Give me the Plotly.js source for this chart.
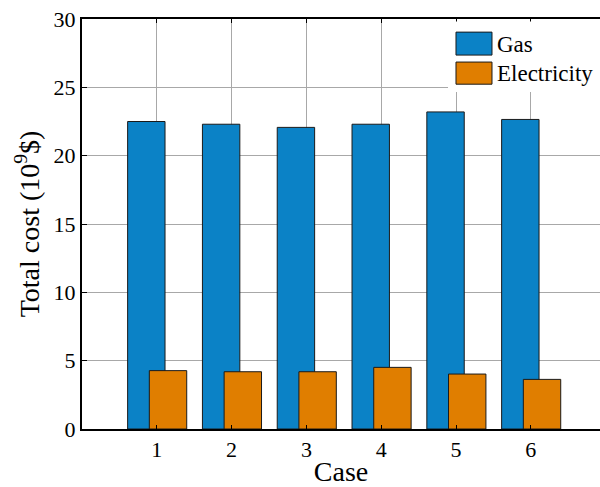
<!DOCTYPE html>
<html>
<head>
<meta charset="utf-8">
<script src="https://cdn.plot.ly/plotly-3.0.1.min.js"></script>
<style>html,body{margin:0;padding:0;background:#fff;}#chart{width:600px;height:487px;}</style>
</head>
<body>
<div id="chart"></div>
<script>
const cases = [1, 2, 3, 4, 5, 6];
const caseLabels = ["1", "2", "3", "4", "5", "6"];
const seriesNames = ["Gas", "Electricity"];
const gasCost = [22.5, 22.3, 22.07, 22.3, 23.2, 22.65];
const electricityCost = [4.27, 4.19, 4.19, 4.51, 4.02, 3.63];
const yTicks = [0, 5, 10, 15, 20, 25, 30];

const gasColor = "#0b82c6";
const elecColor = "#e07e00";
const serif = "Liberation Serif";

const traces = [
  {type: "bar", name: seriesNames[0], x: cases, y: gasCost, width: 0.5, offset: -0.39,
   marker: {color: gasColor, line: {color: "#1a1a1a", width: 1}}, showlegend: false},
  {type: "bar", name: seriesNames[1], x: cases, y: electricityCost, width: 0.5, offset: -0.1,
   marker: {color: elecColor, line: {color: "#1a1a1a", width: 1}}, showlegend: false}
];

const layout = {
  width: 600, height: 487,
  margin: {l: 82, r: 0, t: 19, b: 58},
  paper_bgcolor: "#fff", plot_bgcolor: "#fff",
  barmode: "overlay",
  font: {family: serif, color: "#000", size: 22},
  xaxis: {
    range: [0, 6.925], tickvals: cases, ticktext: caseLabels,
    showgrid: true, gridcolor: "#a8a8a8", gridwidth: 1,
    showline: true, linecolor: "#000", linewidth: 2, mirror: "ticks",
    ticks: "inside", ticklen: 4, tickcolor: "#000",
    zeroline: false, tickfont: {family: serif, size: 22, color: "#000"},
    title: {text: "Case", font: {family: serif, size: 28, color: "#000"}, standoff: 0}
  },
  yaxis: {
    range: [0, 30], tickvals: yTicks,
    showgrid: true, gridcolor: "#a8a8a8", gridwidth: 1,
    showline: true, linecolor: "#000", linewidth: 2,
    ticks: "inside", ticklen: 5, tickcolor: "#000",
    zeroline: false, tickfont: {family: serif, size: 22, color: "#000"},
    title: {text: "Total cost (10<sup>9</sup>$)", font: {family: serif, size: 28, color: "#000"}, standoff: 6}
  },
  shapes: [
    {type: "rect", xref: "paper", yref: "paper", x0: 0.7066, x1: 1.0, y0: 0.822, y1: 0.994,
     fillcolor: "#fff", line: {width: 0}, layer: "above"},
    {type: "rect", xref: "paper", yref: "paper", x0: 0.722, x1: 0.7915, y0: 0.912, y1: 0.968,
     fillcolor: gasColor, line: {color: "#1a1a1a", width: 1}, layer: "above"},
    {type: "rect", xref: "paper", yref: "paper", x0: 0.722, x1: 0.7915, y0: 0.841, y1: 0.895,
     fillcolor: elecColor, line: {color: "#1a1a1a", width: 1}, layer: "above"}
  ],
  annotations: [
    {xref: "paper", yref: "paper", x: 0.797, y: 0.939, xanchor: "left", yanchor: "middle",
     text: seriesNames[0], showarrow: false, font: {family: serif, size: 23, color: "#000"}},
    {xref: "paper", yref: "paper", x: 0.797, y: 0.868, xanchor: "left", yanchor: "middle",
     text: seriesNames[1], showarrow: false, font: {family: serif, size: 23, color: "#000"}}
  ]
};

Plotly.newPlot("chart", traces, layout, {displayModeBar: false, staticPlot: true});
</script>
</body>
</html>
